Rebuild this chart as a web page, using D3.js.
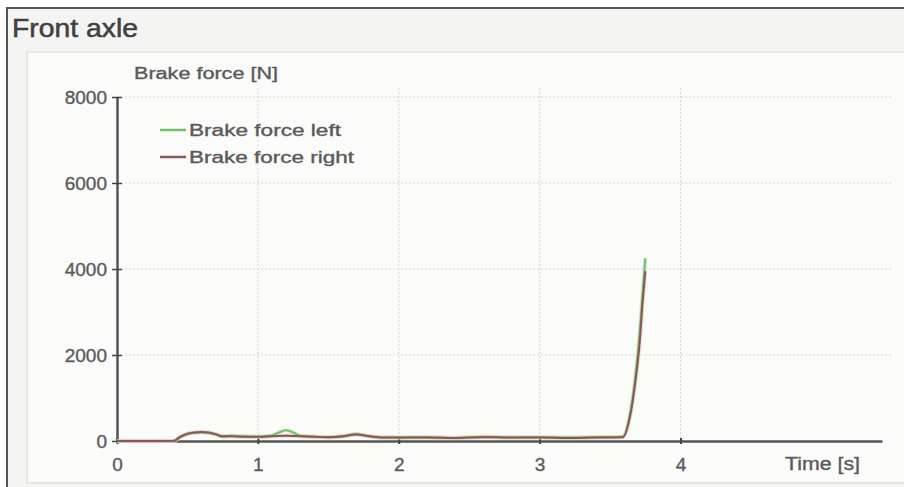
<!DOCTYPE html>
<html><head><meta charset="utf-8">
<script src="https://cdn.jsdelivr.net/npm/d3@7"></script>
<style>
html,body{margin:0;padding:0;background:#fff;}
svg{display:block;font-family:Arial,"Liberation Sans",sans-serif;}
</style></head>
<body>
<svg id="chart" width="904" height="487"></svg>
<script>
// ---- data ----
const timesLeft  = [0, 0.40, 0.45, 0.50, 0.55, 0.60, 0.65, 0.70, 0.75, 0.80, 0.90, 1.00, 1.10, 1.15, 1.20, 1.25, 1.30, 1.40, 1.50, 1.60, 1.65, 1.70, 1.75, 1.80, 1.90, 2.00, 2.20, 2.40, 2.60, 2.80, 3.00, 3.20, 3.40, 3.59, 3.64, 3.68, 3.71, 3.73, 3.75];
const forceLeft  = [0, 0, 90, 160, 190, 200, 190, 150, 100, 120, 110, 100, 130, 200, 250, 200, 120, 100, 90, 100, 140, 160, 130, 100, 80, 80, 90, 70, 100, 80, 90, 80, 90, 100, 600, 1500, 2500, 3400, 4250];
const timesRight = [0, 0.40, 0.45, 0.50, 0.55, 0.60, 0.65, 0.70, 0.75, 0.80, 0.90, 1.00, 1.10, 1.20, 1.30, 1.40, 1.50, 1.60, 1.70, 1.80, 1.90, 2.00, 2.20, 2.40, 2.60, 2.80, 3.00, 3.20, 3.40, 3.59, 3.64, 3.68, 3.71, 3.73, 3.75];
const forceRight = [0, 0, 100, 170, 200, 210, 200, 160, 110, 110, 100, 100, 110, 120, 110, 100, 90, 110, 150, 110, 80, 80, 80, 70, 90, 80, 80, 70, 80, 90, 550, 1400, 2300, 3200, 3950];
const seriesNames = ["Brake force left", "Brake force right"];
const xTicks = [0, 1, 2, 3, 4];
const yTicks = [0, 2000, 4000, 6000, 8000];
const xMax = 5.43;
const yMax = 8000;

// ---- layout ----
const svg = d3.select("#chart");
const colors = ["#6fbf6a", "#8a5656"];
const haloColors = ["#bfe3b8", "#e9c2c2"];
const textColor = "#5a5a5a";
const FONT = "Arial, 'Liberation Sans', sans-serif";

function heavy(sel, w) {
  return sel.attr("stroke", sel.attr("fill")).attr("stroke-width", w).attr("paint-order", "stroke");
}

// frame & backgrounds
svg.append("rect").attr("x", 0).attr("y", 0).attr("width", 904).attr("height", 487).attr("fill", "#fff");
svg.append("rect").attr("x", 7).attr("y", 8).attr("width", 900).attr("height", 485)
  .attr("fill", "#f4f4f2").attr("stroke", "#555").attr("stroke-width", 2);
svg.append("rect").attr("x", 27).attr("y", 52).attr("width", 880).attr("height", 431)
  .attr("fill", "#fbfbf9").attr("stroke", "#e2e2e0").attr("stroke-width", 1.5);

heavy(svg.append("text").attr("x", 12).attr("y", 37).attr("font-size", 25)
  .attr("fill", "#404040").attr("textLength", 126).attr("lengthAdjust", "spacingAndGlyphs")
  .text("Front axle"), 0.5);

const x = d3.scaleLinear().domain([0, xMax]).range([117, 882]);
const y = d3.scaleLinear().domain([0, yMax]).range([441, 97]);

// grid
const grid = svg.append("g");
grid.selectAll(".hg").data(yTicks.slice(1)).join("line")
  .attr("x1", x(0)).attr("x2", 892).attr("y1", d => y(d)).attr("y2", d => y(d))
  .attr("stroke", "#d6d6d4").attr("stroke-width", 1).attr("stroke-dasharray", "2,2");
grid.selectAll(".vg").data(xTicks.slice(1)).join("line")
  .attr("x1", d => x(d)).attr("x2", d => x(d)).attr("y1", 88).attr("y2", y(0))
  .attr("stroke", "#d6d6d4").attr("stroke-width", 1).attr("stroke-dasharray", "2,2");

// axes
const xAxis = d3.axisBottom(x).tickValues(xTicks).tickSize(5).tickSizeOuter(0).tickFormat(d3.format("d"));
const gx = svg.append("g").attr("transform", `translate(0,${y(0)})`).call(xAxis);
gx.select(".domain").attr("stroke", "#555").attr("stroke-width", 2.5);
gx.selectAll(".tick line").attr("stroke", "#444").attr("stroke-width", 2).attr("y1", -3).attr("y2", 3);
gx.selectAll(".tick text").attr("fill", textColor).attr("font-size", 19).attr("font-family", FONT)
  .attr("dy", "0").attr("y", 30).attr("stroke", textColor).attr("stroke-width", 0.35);

const yAxis = d3.axisLeft(y).tickValues(yTicks).tickSize(5).tickSizeOuter(0).tickFormat(d3.format("d"));
const gy = svg.append("g").attr("transform", `translate(${x(0)},0)`).call(yAxis);
gy.select(".domain").attr("stroke", "#555").attr("stroke-width", 2.5);
gy.selectAll(".tick line").attr("stroke", "#444").attr("stroke-width", 1.5).attr("x1", -5).attr("x2", 5);
gy.selectAll(".tick text").attr("fill", textColor).attr("font-size", 19).attr("font-family", FONT)
  .attr("x", -10).attr("dy", "0.36em").attr("stroke", textColor).attr("stroke-width", 0.35);

// axis titles
heavy(svg.append("text").attr("x", 134).attr("y", 79).attr("font-size", 16).attr("fill", textColor)
  .attr("textLength", 144).attr("lengthAdjust", "spacingAndGlyphs").text("Brake force [N]"), 0.35);
heavy(svg.append("text").attr("x", 785).attr("y", 470).attr("font-size", 18).attr("fill", textColor)
  .attr("textLength", 75).attr("lengthAdjust", "spacingAndGlyphs").text("Time [s]"), 0.35);

// lines
const line = d3.line().x(d => x(d[0])).y(d => y(d[1])).curve(d3.curveMonotoneX);
const dataLeft = timesLeft.map((t, i) => [t, forceLeft[i]]);
const dataRight = timesRight.map((t, i) => [t, forceRight[i]]);
[dataLeft, dataRight].forEach((data, i) => {
  svg.append("path").datum(data).attr("d", line).attr("fill", "none")
    .attr("stroke", haloColors[i]).attr("stroke-width", 4).attr("stroke-opacity", 0.6);
});
[dataLeft, dataRight].forEach((data, i) => {
  svg.append("path").datum(data).attr("d", line).attr("fill", "none")
    .attr("stroke", colors[i]).attr("stroke-width", 2);
});

// legend
const lg = svg.append("g");
const legendWidths = [152, 165];
seriesNames.forEach((name, i) => {
  const yy = 130 + i * 27;
  lg.append("line").attr("x1", 160).attr("x2", 186).attr("y1", yy).attr("y2", yy)
    .attr("stroke", colors[i]).attr("stroke-width", 2.5);
  heavy(lg.append("text").attr("x", 189).attr("y", yy + 6).attr("font-size", 16).attr("fill", textColor)
    .attr("textLength", legendWidths[i]).attr("lengthAdjust", "spacingAndGlyphs").text(name), 0.35);
});
</script>
</body></html>
